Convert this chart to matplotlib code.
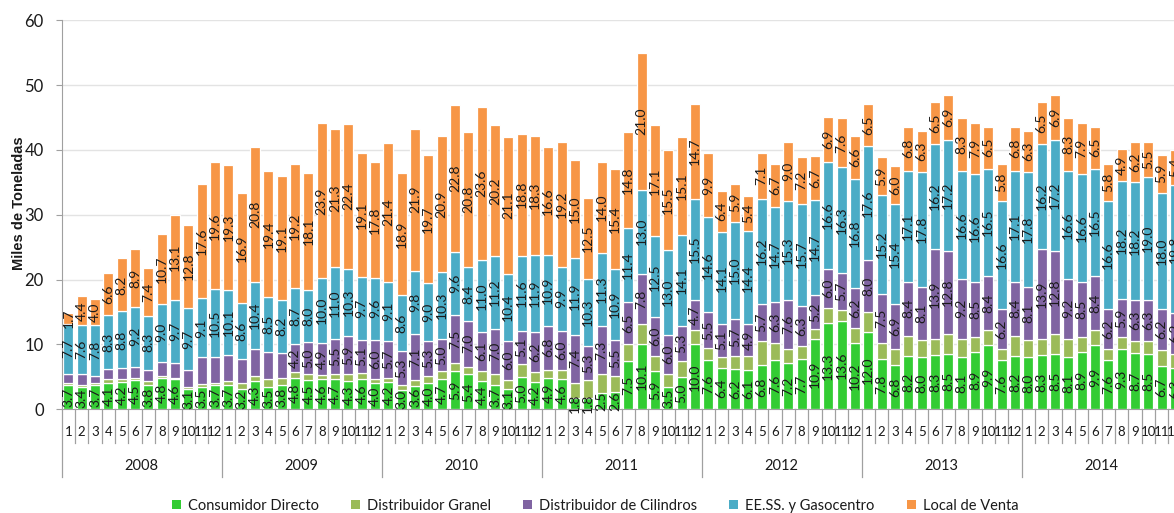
import numpy as np
import matplotlib
matplotlib.use("Agg")
import matplotlib.pyplot as plt
from matplotlib.patches import Patch
import matplotlib.transforms as mtransforms

plt.rcParams['font.family'] = ['Lato', 'DejaVu Sans']

# Ventas mensuales de GLP por canal (miles de toneladas), enero 2008 - diciembre 2014
years = ['2008', '2009', '2010', '2011', '2012', '2013', '2014']
months = [str(m) for m in range(1, 13)]

consumidor = [
    3.7, 3.4, 3.7, 4.1, 4.2, 4.5, 3.8, 4.8, 4.6, 3.1, 3.5, 3.7,
    3.7, 3.2, 4.3, 3.5, 3.8, 4.8, 4.5, 4.6, 4.7, 4.3, 4.6, 4.0,
    4.2, 3.0, 3.6, 4.0, 4.7, 5.9, 5.4, 4.4, 3.7, 3.1, 5.0, 4.2,
    4.9, 4.6, 1.8, 1.8, 2.5, 2.6, 7.5, 10.1, 5.9, 3.5, 5.0, 10.0,
    7.6, 6.4, 6.2, 6.1, 6.8, 7.6, 7.2, 7.7, 10.9, 13.3, 13.6, 10.2,
    12.0, 7.8, 6.8, 8.2, 8.0, 8.3, 8.5, 8.1, 8.9, 9.9, 7.6, 8.2,
    8.0, 8.3, 8.5, 8.1, 8.9, 9.9, 7.6, 9.3, 8.7, 8.5, 6.7, 6.3]

granel = [
    0.3, 0.4, 0.3, 0.6, 0.4, 0.4, 0.5, 0.3, 0.3, 0.4, 0.4, 0.4,
    0.6, 0.9, 0.9, 1.1, 1.0, 1.0, 0.9, 0.7, 0.7, 1.1, 1.0, 0.7,
    0.7, 0.7, 0.9, 1.2, 1.2, 1.2, 1.2, 1.5, 1.7, 1.4, 2.0, 1.5,
    1.2, 1.5, 2.3, 2.7, 3.0, 2.6, 2.5, 3.0, 2.3, 2.0, 2.5, 2.2,
    1.9, 1.7, 2.0, 2.1, 3.8, 2.6, 2.1, 2.0, 1.5, 2.3, 1.7, 2.3,
    3.0, 2.5, 2.5, 3.1, 2.7, 2.5, 3.1, 2.8, 2.3, 2.3, 1.7, 3.1,
    2.7, 2.5, 3.1, 2.8, 2.3, 2.3, 1.7, 1.8, 1.8, 2.0, 2.5, 2.3]

cilindros = [
    1.5, 1.6, 1.2, 1.5, 1.7, 1.7, 1.8, 2.2, 2.3, 2.5, 4.1, 3.9,
    4.0, 3.7, 4.1, 4.2, 3.9, 4.2, 5.0, 4.9, 5.5, 5.9, 5.1, 6.0,
    5.7, 5.3, 7.1, 5.3, 5.0, 7.5, 7.0, 6.1, 7.0, 6.0, 5.1, 6.2,
    6.8, 6.0, 7.4, 5.3, 7.3, 5.5, 6.5, 7.8, 6.0, 6.0, 5.3, 4.7,
    5.5, 5.1, 5.7, 4.9, 5.7, 6.3, 7.6, 6.3, 5.2, 6.0, 5.7, 6.2,
    8.0, 7.5, 6.9, 8.4, 8.1, 13.9, 12.8, 9.2, 8.5, 8.4, 6.2, 8.4,
    8.1, 13.9, 12.8, 9.2, 8.5, 8.4, 6.2, 5.9, 6.3, 6.3, 6.2, 6.2]

eess = [
    7.7, 7.6, 7.8, 8.3, 8.8, 9.2, 8.3, 9.0, 9.7, 9.7, 9.1, 10.5,
    10.1, 8.6, 10.4, 8.5, 8.2, 8.7, 8.0, 10.0, 11.0, 10.3, 9.7, 9.6,
    9.1, 8.6, 9.8, 9.0, 10.3, 9.6, 8.4, 11.0, 11.2, 10.4, 11.6, 11.9,
    10.9, 9.9, 11.9, 10.3, 11.3, 10.9, 11.4, 13.0, 12.5, 13.0, 14.1, 15.5,
    14.6, 14.1, 15.0, 14.4, 16.2, 14.7, 15.3, 15.7, 14.7, 16.6, 16.3, 16.8,
    17.6, 15.2, 15.4, 17.1, 17.8, 16.2, 17.2, 16.6, 16.6, 16.5, 16.6, 17.1,
    17.8, 16.2, 17.2, 16.6, 16.6, 16.5, 16.6, 18.2, 18.2, 19.0, 18.0, 19.8]

local = [
    1.7, 4.4, 4.0, 6.6, 8.2, 8.9, 7.4, 10.7, 13.1, 12.8, 17.6, 19.6,
    19.3, 16.9, 20.8, 19.4, 19.1, 19.2, 18.1, 23.9, 21.3, 22.4, 19.1, 17.8,
    21.4, 18.9, 21.9, 19.7, 20.9, 22.8, 20.8, 23.6, 20.2, 21.1, 18.8, 18.3,
    16.6, 19.2, 15.0, 12.5, 14.0, 15.4, 14.8, 21.0, 17.1, 15.5, 15.1, 14.7,
    9.9, 6.4, 5.9, 5.4, 7.1, 6.7, 9.0, 7.2, 6.7, 6.9, 7.6, 6.6,
    6.5, 5.9, 6.0, 6.8, 6.3, 6.5, 6.9, 8.3, 7.9, 6.5, 5.8, 6.8,
    6.3, 6.5, 6.9, 8.3, 7.9, 6.5, 5.8, 4.9, 6.2, 5.5, 5.9, 5.4]

# Cilindros only carries value labels from June 2009 onwards
cilindros_first_label = 17

series = [
    ('Consumidor Directo', consumidor, '#33CC33', 0),
    ('Distribuidor Granel', granel, '#9BBB59', None),
    ('Distribuidor de Cilindros', cilindros, '#8064A2', cilindros_first_label),
    ('EE.SS. y Gasocentro', eess, '#4BACC6', 0),
    ('Local de Venta', local, '#F79646', 0),
]

n = len(consumidor)
x = np.arange(n)
bar_w = 0.74

W, H, DPI = 1174, 513, 100
fig = plt.figure(figsize=(W / DPI, H / DPI), dpi=DPI)
# plot area extends past the right edge of the canvas (last months are cut off)
left_px, right_px = 61.7, 61.7 + 13.333 * 84
bottom_px, top_px = 409.3, 20.3
ax = fig.add_axes([left_px / W, (H - bottom_px) / H,
                   (right_px - left_px) / W, (bottom_px - top_px) / H])

# soft drop shadow behind each stacked column
totals = np.sum([np.asarray(v, dtype=float) for _, v, _, _ in series], axis=0)
ax.bar(x + 0.09, totals + 0.15, bottom=-0.3, width=bar_w, color='#c8c8c8',
       alpha=0.6, linewidth=0, zorder=2)

bottom = np.zeros(n)
for name, vals, color, first_label in series:
    vals = np.asarray(vals, dtype=float)
    ax.bar(x, vals, bottom=bottom, width=bar_w, color=color,
           edgecolor='white', linewidth=0.9, zorder=3, label=name)
    if first_label is not None:
        for i in range(first_label, n):
            ax.text(x[i], bottom[i] + vals[i] / 2, f'{vals[i]:.1f}',
                    rotation=90, ha='center', va='center', fontsize=10,
                    color='#1a1a1a', zorder=5, clip_on=False)
    bottom += vals

ax.set_xlim(-0.5, n - 0.5)
ax.set_ylim(0, 60)
ax.set_yticks(np.arange(0, 61, 10))
ax.yaxis.grid(True, color='#e3e3e3', linewidth=1.0, zorder=0)
ax.set_axisbelow(True)
for s in ('top', 'right'):
    ax.spines[s].set_visible(False)
ax.spines['left'].set_color('#a0a0a0')
ax.spines['bottom'].set_color('#a0a0a0')
ax.spines['left'].set_zorder(4)
ax.tick_params(axis='y', length=4, color='#a0a0a0', pad=9, labelsize=12,
               labelcolor='#1a1a1a')
ax.set_xticks([])
ax.set_ylabel('Miles de Toneladas', family='Liberation Sans', fontweight='bold',
              fontsize=10.5, color='#1a1a1a')
ax.yaxis.set_label_coords(-0.032, 0.53)

# two-level category axis: months and years with separator lines
ax_h = bottom_px - top_px
trans = mtransforms.blended_transform_factory(ax.transData, ax.transAxes)
month_line = -34 / ax_h
year_line = -68 / ax_h
for i in range(n):
    ax.text(x[i], -22.7 / ax_h, months[i % 12], transform=trans, ha='center',
            va='center', fontsize=9.5, color='#1a1a1a', clip_on=False)
for b in range(n + 1):
    y_end = year_line if b % 12 == 0 else month_line
    ax.plot([b - 0.5, b - 0.5], [0, y_end], transform=trans, color='#a0a0a0',
            linewidth=0.9, clip_on=False)
for k, yr in enumerate(years):
    ax.text(12 * k + 5.5, -56.7 / ax_h, yr, transform=trans, ha='center',
            va='center', fontsize=10.5, color='#1a1a1a', clip_on=False)

handles = [Patch(facecolor=c, edgecolor='none', label=nm) for nm, _, c, _ in series]
fig.legend(handles=handles, loc='center', bbox_to_anchor=(0.507, 0.014), ncol=5,
           frameon=False, fontsize=10.5, handlelength=0.6, handleheight=0.6,
           handletextpad=0.5, columnspacing=2.2, labelcolor='#1a1a1a')

fig.savefig('out.png', dpi=DPI)
